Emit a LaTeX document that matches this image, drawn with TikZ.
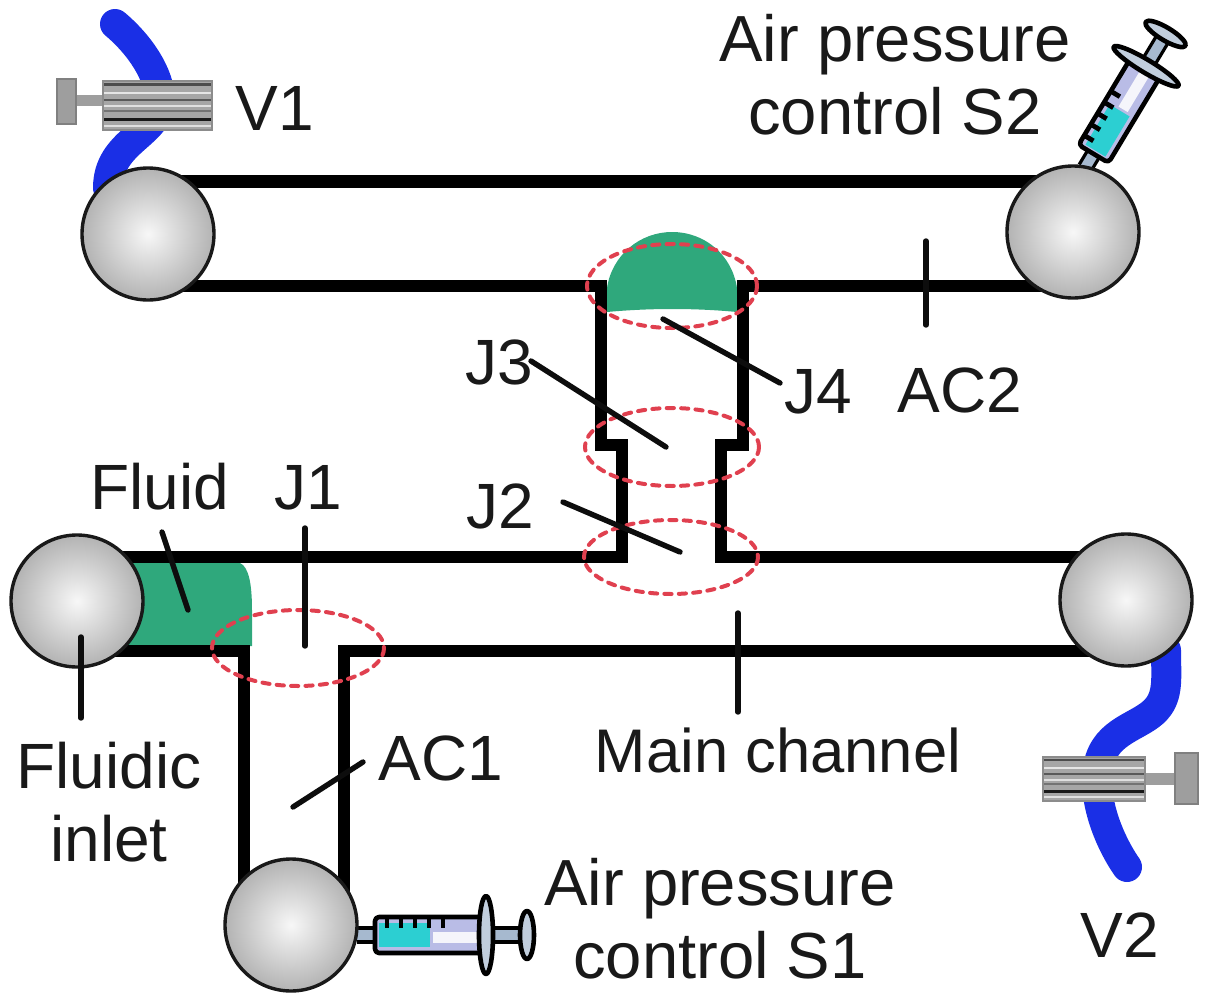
\documentclass[tikz,border=0pt]{standalone}
\usepackage{fontspec}
\setmainfont{Liberation Sans}
\usetikzlibrary{shadings}
\definecolor{fluid}{HTML}{2FA87C}
\definecolor{tube}{HTML}{1A2FE6}
\definecolor{jring}{HTML}{E0404F}
\definecolor{liq}{HTML}{2CCFD2}
\definecolor{barrel}{HTML}{B9BCE6}
\definecolor{steel}{HTML}{A6B9CF}
\tikzset{
  x=0.5pt,y=-0.5pt,
  channel/.style={line width=6pt,black,miter limit=10},
  port/.style={circle,draw=black!90,line width=1.7pt,minimum size=66pt,inner sep=0pt,outer sep=0pt,inner color=white!97!black,outer color=black!30},
  leader/.style={line width=2.7pt,black!95,line cap=round},
  ring/.style={draw=jring,line width=2pt,dash pattern=on 3.6pt off 3.6pt,line cap=round},
  lab/.style={font=\fontsize{32}{36.5}\selectfont,text=black!90,inner sep=0pt,align=center},
  bluetube/.style={tube,line width=15pt,line cap=round,line join=round},
  sline/.style={black,line width=2.3pt,line join=round},
  sthin/.style={black,line width=1.6pt,line join=round},
}
\newcommand{\drawsyringe}{%
  \fill[steel] (0,-6) rectangle (18,6);
  \draw[sthin] (0,-7) -- (18,-7) (0,7) -- (18,7);
  \fill[barrel] (18,-17) rectangle (126,17);
  \fill[liq] (22,-12) rectangle (73,12);
  \fill[white!85!barrel] (76,-3) rectangle (124,8);
  \draw[sline,rounded corners=2pt] (18,-18) rectangle (126,18);
  \foreach \tk in {30,44,58,72,86}{\draw[black,line width=2.4pt] (\tk,-17) -- (\tk,-7);}
  \fill[steel] (133,-6) rectangle (165,6);
  \draw[sthin] (133,-7) -- (165,-7) (133,7) -- (165,7);
  \draw[sline,fill=steel!70!white] (129,0) ellipse [x radius=7,y radius=39];
  \draw[sline,fill=steel!70!white] (170,0) ellipse [x radius=7,y radius=24];
}
% #1 left, #2 top, #3 width, #4 height of the ribbed body
\newcommand{\ribbedbody}[4]{%
  \fill[black!35] (#1,#2) rectangle ++(#3,#4);
  \foreach \fr/\col/\wd in {.07/black!70/1.4pt,.24/black!10/1pt,.38/black!65/1pt,.52/black!12/1pt,.62/black!55/1pt,.78/black!90/1.6pt,.92/black!12/1pt}{
    \draw[\col,line width=\wd] (#1,#2+\fr*#4) -- ++(#3,0);
  }
  \draw[black!45,line width=.6pt] (#1,#2) rectangle ++(#3,#4);
}
\begin{document}
\begin{tikzpicture}
\useasboundingbox (0,0) rectangle (1207,1007);
\coordinate (tlA) at (148,181); \coordinate (trA) at (1073,181);
\coordinate (tlB) at (148,286); \coordinate (trB) at (1073,286);
\coordinate (vL) at (601,286);  \coordinate (vR) at (743,286);
\coordinate (mlA) at (77,557);  \coordinate (mrA) at (1126,557);
\coordinate (mlB) at (77,651);  \coordinate (mrB) at (1126,651);
\coordinate (aL) at (244,925);  \coordinate (aR) at (344,925);

% tubes (behind the valves and ports)
\draw[bluetube] (115,24) .. controls (140,45) and (160,75) .. (160,100)
   .. controls (160,135) and (108,140) .. (108,188);
\draw[bluetube] (1166,650) .. controls (1166,680) and (1170,700) .. (1150,715)
   .. controls (1130,730) and (1097,735) .. (1097,780)
   .. controls (1097,815) and (1115,850) .. (1127,867);

% fluid
\fill[fluid] (120,563) -- (240,563) .. controls (249,567) and (252,585) .. (252,610) -- (252,646) -- (120,646) -- cycle;
\fill[fluid] (607,312) -- (607,288) .. controls (612,255) and (640,232) .. (672,232)
   .. controls (705,232) and (732,255) .. (737,288) -- (737,312) .. controls (695,308) and (650,308) .. (607,312) -- cycle;

% channels
\draw[channel,line width=6.5pt] (tlA) -- (trA);
\draw[channel] (tlB) -- (607,286);
\draw[channel] (737,286) -- (trB);
\draw[channel] (vL) -- (601,445) -- (622,445) -- (622,557) -- (mlA);
\draw[channel] (vR) -- (743,445) -- (721,445) -- (721,557) -- (mrA);
\draw[channel] (mlB) -- (244,651) -- (aL);
\draw[channel] (mrB) -- (344,651) -- (aR);

% syringes
\begin{scope}[shift={(357,935)}] \drawsyringe \end{scope}
\begin{scope}[shift={(1085,168)},rotate=59,xscale=.92,yscale=.97] \drawsyringe \end{scope}

% ports
\node[port] (p1) at (148,234) {};
\node[port] (p2) at (1073,232) {};
\node[port] (p3) at (77,601) {};
\node[port] (p4) at (1126,600) {};
\node[port] (p5) at (291,925) {};

% valves
\fill[black!38] (76,95) rectangle (103,106);
\draw[black!50,fill=black!38,line width=.6pt] (57,79) rectangle (76,124);
\ribbedbody{103}{81}{109}{49}
\fill[black!38] (1145,773) rectangle (1177,785);
\draw[black!50,fill=black!38,line width=.6pt] (1175,753) rectangle (1198,804);
\ribbedbody{1043}{757}{102}{44}

% junction rings
\draw[ring] (672,286) ellipse [x radius=85,y radius=42];
\draw[ring] (672,447) ellipse [x radius=87,y radius=39];
\draw[ring] (671,557) ellipse [x radius=87,y radius=37];
\draw[ring] (298,648) ellipse [x radius=86,y radius=38];

% labels
\node[lab] (lV1) at (275,108) {V1};
\node[lab,font=\fontsize{32.6}{36.5}\selectfont] (lS2) at (895,75) {Air pressure\\control S2};
\node[lab] (lJ4) at (818,392) {J4};
\node[lab] (lAC2) at (960,390) {AC2};
\node[lab] (lJ3) at (499,362) {J3};
\node[lab] (lJ2) at (500,506) {J2};
\node[lab] (lFluid) at (160,487) {Fluid};
\node[lab] (lJ1) at (308,488) {J1};
\node[lab] (lInlet) at (109,802) {Fluidic\\inlet};
\node[lab,font=\fontsize{30.8}{36}\selectfont] (lMain) at (778,750) {Main channel};
\node[lab] (lAC1) at (441,758) {AC1};
\node[lab,font=\fontsize{32.6}{36.5}\selectfont] (lS1) at (720,919) {Air pressure\\control S1};
\node[lab] (lV2) at (1120,935) {V2};

% leaders
\coordinate (eJ4a) at (663,319); \coordinate (eJ4b) at (780,383);
\coordinate (eJ3a) at (531,361); \coordinate (eJ3b) at (666,447);
\coordinate (eJ2a) at (563,502); \coordinate (eJ2b) at (680,552);
\coordinate (eJ1a) at (305,528); \coordinate (eJ1b) at (305,646);
\coordinate (eFa) at (162,532);  \coordinate (eFb) at (188,610);
\coordinate (eIa) at (81,637);   \coordinate (eIb) at (81,718);
\coordinate (eMa) at (738,613);  \coordinate (eMb) at (738,712);
\coordinate (eCa) at (926,241);  \coordinate (eCb) at (926,325);
\coordinate (eAa) at (363,762);  \coordinate (eAb) at (293,807);
\foreach \a/\b in {eJ4a/eJ4b,eJ3a/eJ3b,eJ2a/eJ2b,eJ1a/eJ1b,eFa/eFb,eIa/eIb,eMa/eMb,eCa/eCb,eAa/eAb}{
  \draw[leader] (\a) -- (\b);
}
\end{tikzpicture}
\end{document}
